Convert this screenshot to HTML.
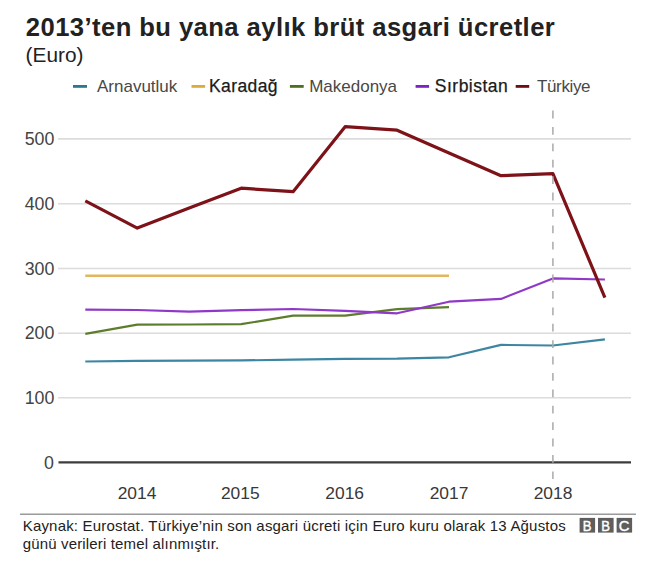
<!DOCTYPE html>
<html><head><meta charset="utf-8">
<style>
html,body{margin:0;padding:0;background:#fff;}
body{width:645px;height:563px;overflow:hidden;}
svg{display:block;font-family:"Liberation Sans",sans-serif;}
</style></head>
<body>
<svg width="645" height="563" viewBox="0 0 645 563">
<rect width="645" height="563" fill="#fff"/>
<!-- title -->
<text x="25.8" y="35.5" font-size="25.6" font-weight="bold" fill="#222" textLength="529" lengthAdjust="spacing">2013’ten bu yana aylık brüt asgari ücretler</text>
<text x="25.6" y="61.6" font-size="20.8" fill="#222">(Euro)</text>
<!-- legend -->
<g font-size="17">
<rect x="73" y="85" width="14" height="2.8" fill="#2a7888"/>
<text x="97" y="92.1" fill="#484848">Arnavutluk</text>
<rect x="191.5" y="85" width="13.6" height="2.8" fill="#dcab3c"/>
<text x="209" y="92.1" fill="#1a1a1a" stroke="#1a1a1a" stroke-width="0.25" font-size="17.5" textLength="68.5" lengthAdjust="spacing">Karadağ</text>
<rect x="289.9" y="85" width="13.8" height="2.8" fill="#4f6e1e"/>
<text x="309.2" y="92.1" fill="#484848">Makedonya</text>
<rect x="415.6" y="85" width="13.5" height="2.8" fill="#7e22c2"/>
<text x="434.8" y="92.1" fill="#1a1a1a" stroke="#1a1a1a" stroke-width="0.25" font-size="17.5" textLength="73" lengthAdjust="spacing">Sırbistan</text>
<rect x="515.7" y="85" width="13.5" height="2.8" fill="#700c14"/>
<text x="537" y="92.1" fill="#484848" textLength="53.5" lengthAdjust="spacing">Türkiye</text>
</g>
<!-- gridlines -->
<g stroke="#dcdcdc" stroke-width="1.6">
<line x1="58" y1="138.9" x2="631" y2="138.9"/>
<line x1="58" y1="203.8" x2="631" y2="203.8"/>
<line x1="58" y1="268.5" x2="631" y2="268.5"/>
<line x1="58" y1="333.2" x2="631" y2="333.2"/>
<line x1="58" y1="397.8" x2="631" y2="397.8"/>
</g>
<!-- y labels -->
<g font-size="17.8" fill="#444" text-anchor="end">
<text x="54.4" y="145">500</text>
<text x="54.4" y="209.8">400</text>
<text x="54.4" y="274.6">300</text>
<text x="54.4" y="339.3">200</text>
<text x="54.4" y="404.1">100</text>
<text x="54" y="468.8">0</text>
</g>
<!-- series -->
<g fill="none" stroke-linejoin="round" stroke-linecap="butt">
<polyline stroke="#3c86a2" stroke-width="2.2" points="85.3,361.5 137.3,360.9 189.2,360.7 241.2,360.4 293.1,359.7 345.1,358.9 397.1,358.7 449.0,357.3 501.0,344.9 552.9,345.5 604.9,339.3"/>
<polyline stroke="#e2b65e" stroke-width="2.4" points="85.3,275.8 449.0,275.8"/>
<polyline stroke="#5e7d2c" stroke-width="2.2" points="85.3,333.8 137.3,324.7 189.2,324.5 241.2,324.2 293.1,315.6 345.1,315.6 397.1,309.2 449.0,307.1"/>
<polyline stroke="#9038c8" stroke-width="2.2" points="85.3,309.6 137.3,310.0 189.2,311.6 241.2,310.2 293.1,309.0 345.1,310.8 397.1,313.3 449.0,301.7 501.0,298.9 552.9,278.4 604.9,279.5"/>
<polyline stroke="#7d1218" stroke-width="3.2" points="85.3,200.9 137.3,228.1 189.2,208.1 241.2,188.2 293.1,191.7 345.1,126.7 397.1,130.2 449.0,153.0 501.0,175.7 552.9,173.6 604.9,297.6"/>
</g>
<!-- zero line -->
<line x1="58.5" y1="462.4" x2="631" y2="462.4" stroke="#3c3c3c" stroke-width="2.3"/>
<!-- dashed -->
<line x1="552.9" y1="110.6" x2="552.9" y2="479" stroke="#aaa" stroke-width="1.5" stroke-dasharray="7.8 8.6"/>
<!-- x labels -->
<g font-size="17.4" fill="#383838" text-anchor="middle">
<text x="137" y="499.3">2014</text>
<text x="240.3" y="499.3">2015</text>
<text x="344.7" y="499.3">2016</text>
<text x="449" y="499.3">2017</text>
<text x="553" y="499.3">2018</text>
</g>
<!-- footer -->
<line x1="20" y1="514.2" x2="636" y2="514.2" stroke="#9a9a9a" stroke-width="1.4"/>
<g font-size="15" fill="#222">
<text x="22.7" y="530.8" textLength="543" lengthAdjust="spacing">Kaynak: Eurostat. Türkiye’nin son asgari ücreti için Euro kuru olarak 13 Ağustos</text>
<text x="22.7" y="548.7" textLength="196.5" lengthAdjust="spacing">günü verileri temel alınmıştır.</text>
</g>
<!-- BBC logo -->
<g fill="#5e5e5e">
<rect x="579.6" y="517.9" width="15.5" height="14.7"/>
<rect x="598" y="517.9" width="15.6" height="14.7"/>
<rect x="616.6" y="517.9" width="15.5" height="14.7"/>
</g>
<g font-size="15.2" fill="#fff" stroke="#fff" stroke-width="0.45" text-anchor="middle">
<text transform="translate(587 530.7) scale(0.86 1)">B</text>
<text transform="translate(605.5 530.7) scale(0.86 1)">B</text>
<text transform="translate(624.1 530.7) scale(0.97 1)">C</text>
</g>
</svg>
</body></html>
